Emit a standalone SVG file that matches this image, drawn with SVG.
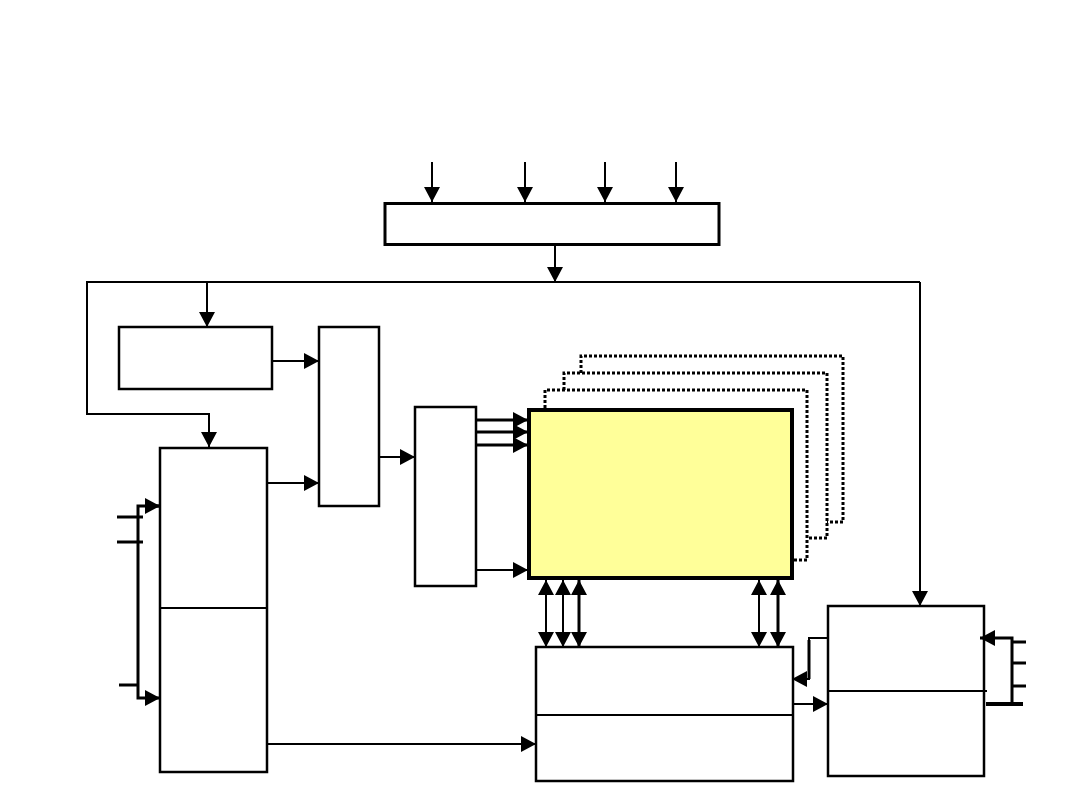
<svg xmlns="http://www.w3.org/2000/svg" width="1080" height="810" viewBox="0 0 1080 810">
<style>
.box{fill:#fff;stroke:#000;stroke-width:2.5}
.ln{fill:none;stroke:#000;stroke-width:2}
.th{fill:none;stroke:#000;stroke-width:3}
.dot{fill:none;stroke:#000;stroke-width:3;stroke-dasharray:3 2}
</style>
<defs>
<marker id="a" markerUnits="userSpaceOnUse" markerWidth="15" markerHeight="16" refX="15" refY="8" orient="auto-start-reverse" viewBox="0 0 15 16">
<path d="M0,0 L15,8 L0,16 z" fill="#000"/>
</marker>
</defs>
<rect width="1080" height="810" fill="#fff"/>
<g id="top-box"><rect x="385" y="203.5" width="334" height="41" fill="#fff" stroke="#000" stroke-width="3"/></g>
<g id="box-a"><rect class="box" x="119" y="327" width="153" height="62"/></g>
<g id="box-b"><rect class="box" x="319" y="327" width="60" height="179"/></g>
<g id="box-c"><rect class="box" x="160" y="448" width="107" height="324"/><line class="ln" x1="160" y1="608" x2="267" y2="608"/></g>
<g id="box-d"><rect class="box" x="415" y="407" width="61" height="179"/></g>
<g id="stack">
<polyline class="dot" points="581,373 581,356 843,356 843,522 827,522"/>
<polyline class="dot" points="564,390 564,373 827,373 827,538 808,538"/>
<polyline class="dot" points="545,408 545,390 807,390 807,560 794,560"/>
<rect x="529" y="410" width="263" height="168" fill="#FFFF99" stroke="#000" stroke-width="4"/>
</g>
<g id="box-e"><rect class="box" x="536" y="647" width="257" height="134"/><line class="ln" x1="536" y1="715" x2="793" y2="715"/></g>
<g id="box-f"><rect class="box" x="828" y="606" width="156" height="170"/><line class="ln" x1="828" y1="691" x2="987" y2="691"/></g>
<g id="connectors">
<line class="ln" x1="432" y1="162" x2="432" y2="202" marker-end="url(#a)"/>
<line class="ln" x1="525" y1="162" x2="525" y2="202" marker-end="url(#a)"/>
<line class="ln" x1="605" y1="162" x2="605" y2="202" marker-end="url(#a)"/>
<line class="ln" x1="676" y1="162" x2="676" y2="202" marker-end="url(#a)"/>
<line class="ln" x1="555" y1="246" x2="555" y2="282" marker-end="url(#a)"/>
<polyline class="ln" points="920,282 87,282 87,414 209,414 209,447" marker-end="url(#a)"/>
<line class="ln" x1="920" y1="282" x2="920" y2="606" marker-end="url(#a)"/>
<line class="ln" x1="207" y1="282" x2="207" y2="327" marker-end="url(#a)"/>
<line class="ln" x1="272" y1="361" x2="319" y2="361" marker-end="url(#a)"/>
<line class="ln" x1="267" y1="483" x2="319" y2="483" marker-end="url(#a)"/>
<line class="ln" x1="379" y1="457" x2="415" y2="457" marker-end="url(#a)"/>
<line class="th" x1="476" y1="420" x2="528" y2="420" marker-end="url(#a)"/>
<line class="th" x1="476" y1="432" x2="528" y2="432" marker-end="url(#a)"/>
<line class="th" x1="476" y1="445" x2="528" y2="445" marker-end="url(#a)"/>
<line class="ln" x1="476" y1="570" x2="528" y2="570" marker-end="url(#a)"/>
<line class="ln" x1="546" y1="580" x2="546" y2="647" marker-start="url(#a)" marker-end="url(#a)"/>
<line class="ln" x1="563" y1="580" x2="563" y2="647" marker-start="url(#a)" marker-end="url(#a)"/>
<line class="th" x1="579" y1="580" x2="579" y2="647" marker-start="url(#a)" marker-end="url(#a)"/>
<line class="ln" x1="759" y1="580" x2="759" y2="647" marker-start="url(#a)" marker-end="url(#a)"/>
<line class="th" x1="778" y1="580" x2="778" y2="647" marker-start="url(#a)" marker-end="url(#a)"/>
<line class="ln" x1="267" y1="744" x2="536" y2="744" marker-end="url(#a)"/>
<polyline class="th" points="160,506 138,506 138,698 160,698" marker-end="url(#a)"/>
<line class="th" x1="148" y1="506" x2="160" y2="506" marker-end="url(#a)"/>
<line class="th" x1="117" y1="517" x2="143" y2="517"/>
<line class="th" x1="117" y1="542" x2="143" y2="542"/>
<line class="th" x1="119" y1="685" x2="137" y2="685"/>
<polyline class="ln" points="828,638 809,638 809,679 792,679" marker-end="url(#a)"/>
<line class="th" x1="809" y1="640" x2="809" y2="679"/>
<line class="ln" x1="793" y1="704" x2="828" y2="704" marker-end="url(#a)"/>
<polyline class="th" points="1012,704 1012,638 980,638" marker-end="url(#a)"/>
<line class="th" x1="1012" y1="642" x2="1026" y2="642"/>
<line class="th" x1="1012" y1="663" x2="1026" y2="663"/>
<line class="th" x1="1012" y1="686" x2="1026" y2="686"/>
<line x1="986" y1="704" x2="1023" y2="704" stroke="#000" stroke-width="4"/>
</g>
</svg>
